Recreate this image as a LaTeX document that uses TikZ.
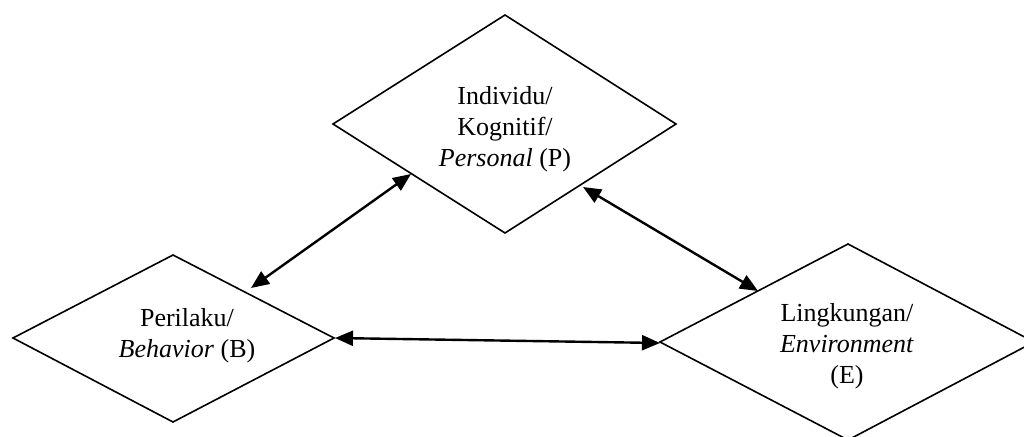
\documentclass[tikz,border=0pt]{standalone}
\usepackage{fontspec}
\setmainfont{Liberation Serif}
\usetikzlibrary{arrows.meta}
\begin{document}
\begin{tikzpicture}[x=1pt,y=-1pt,
  diam/.style={draw=black,line width=1.6pt,line join=miter},
  lbl/.style={align=center,inner sep=0pt,font=\fontsize{26}{31}\selectfont},
  link/.style={line width=2.4pt,{Triangle[length=18pt,width=15pt]}-{Triangle[length=18pt,width=15pt]}}]
\useasboundingbox (0,0) rectangle (1024,436);
% P diamond
\coordinate (Pt) at (505,15);
\coordinate (Pr) at (676,124);
\coordinate (Pb) at (505,233);
\coordinate (Pl) at (333,124);
\draw[diam] (Pt) -- (Pr) -- (Pb) -- (Pl) -- cycle;
% B diamond
\coordinate (Bt) at (173,255);
\coordinate (Br) at (334,338);
\coordinate (Bb) at (173,422);
\coordinate (Bl) at (13,338);
\draw[diam] (Bt) -- (Br) -- (Bb) -- (Bl) -- cycle;
% E diamond
\coordinate (Et) at (848,244);
\coordinate (Er) at (1034,342);
\coordinate (Eb) at (848,440);
\coordinate (El) at (660,342);
\draw[diam] (Et) -- (Er) -- (Eb) -- (El) -- cycle;
% labels
\node[lbl] (P) at (505,129) {Individu/\\Kognitif/\\\textit{Personal} (P)};
\node[lbl] (B) at (187,336) {Perilaku/\\\textit{Behavior} (B)};
\node[lbl] (E) at (847,346) {Lingkungan/\\\textit{Environment}\\(E)};
% connector ends
\coordinate (pb1) at (251,288);
\coordinate (pb2) at (411,174);
\coordinate (pe1) at (583,187);
\coordinate (pe2) at (758,291);
\coordinate (be1) at (335,338);
\coordinate (be2) at (660,343);
\draw[link] (pb1) -- (pb2);
\draw[link] (pe1) -- (pe2);
\draw[link] (be1) -- (be2);
\end{tikzpicture}
\end{document}
